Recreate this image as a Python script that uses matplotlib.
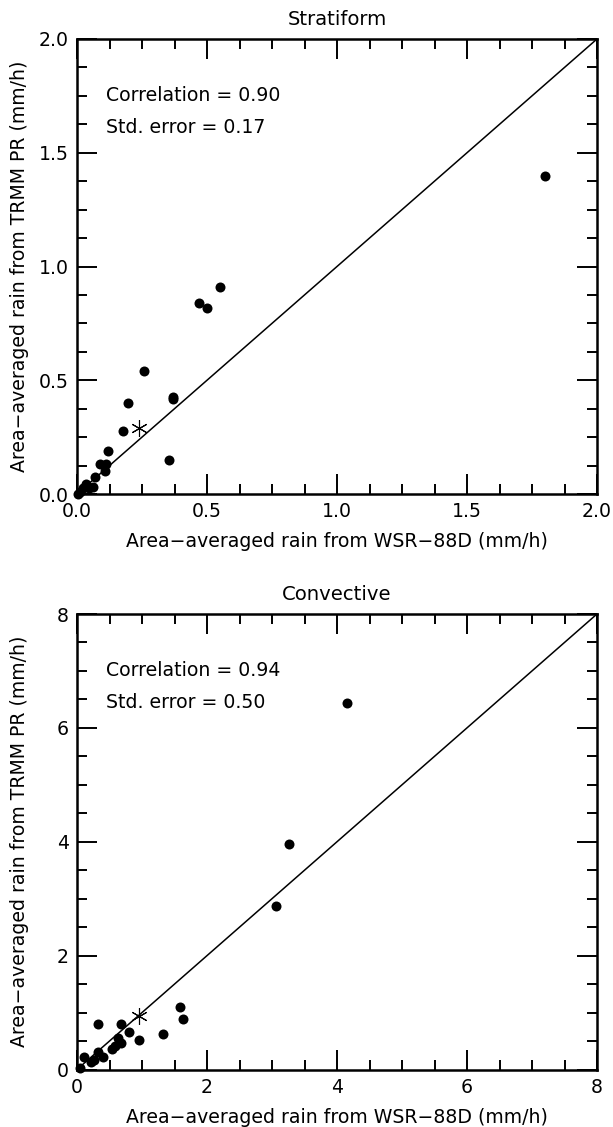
"""
TRMM PR vs WSR-88D area-averaged rain: stratiform and convective scatter.
Output: out.png (613x1127)
"""

import matplotlib
matplotlib.use("Agg")
import matplotlib.pyplot as plt
from matplotlib.ticker import MultipleLocator, FormatStrFormatter

# ─── Data ────────────────────────────────────────────────────────────────────
strat_x = [1.80, 0.549, 0.468, 0.499, 0.259, 0.197, 0.370, 0.370, 0.178, 0.355,
           0.118, 0.090, 0.112, 0.108, 0.068, 0.035, 0.063, 0.024, 0.048, 0.012, 0.005]
strat_y = [1.40, 0.909, 0.838, 0.817, 0.539, 0.398, 0.427, 0.417, 0.278, 0.148,
           0.189, 0.130, 0.130, 0.100, 0.076, 0.042, 0.029, 0.025, 0.027, 0.010, 0.000]
strat_star = (0.24, 0.29)
strat_stats = ("0.90", "0.17")

conv_x = [4.15, 3.26, 3.06, 1.59, 1.63, 1.32, 0.95, 0.33, 0.68, 0.80, 0.63, 0.67,
          0.54, 0.58, 0.40, 0.33, 0.26, 0.21, 0.10, 0.04]
conv_y = [6.43, 3.96, 2.87, 1.10, 0.89, 0.63, 0.52, 0.80, 0.80, 0.66, 0.55, 0.46,
          0.36, 0.42, 0.22, 0.30, 0.16, 0.13, 0.22, 0.03]
conv_star = (0.95, 0.94)
conv_stats = ("0.94", "0.50")

# ─── Canvas ──────────────────────────────────────────────────────────────────
DPI = 100
W, H = 613, 1127
FONT = "DejaVu Sans"
FS = 13.6

XLABEL = "Area\u2212averaged rain from WSR\u221288D (mm/h)"
YLABEL = "Area\u2212averaged rain from TRMM PR (mm/h)"


def panel(ax, xs, ys, star, stats, title, lim, major, minor, fmt):
    ax.set_xlim(0, lim)
    ax.set_ylim(0, lim)
    ax.plot([0, lim], [0, lim], color="black", lw=1.1, zorder=2)
    ax.plot(xs, ys, "o", color="black", ms=7.2, mew=0, zorder=3, clip_on=False)
    ax.plot(star[0], star[1], marker=(6, 2, 0), color="black", ms=12,
            mew=0.8, ls="none", zorder=4)

    for axis in (ax.xaxis, ax.yaxis):
        axis.set_major_locator(MultipleLocator(major))
        axis.set_minor_locator(MultipleLocator(minor))
        axis.set_major_formatter(FormatStrFormatter(fmt))
    ax.tick_params(which="both", direction="in", top=True, right=True,
                   width=1.4, labelsize=FS, pad=6)
    ax.tick_params(which="major", length=14.5)
    ax.tick_params(which="minor", length=7.5)
    for s in ax.spines.values():
        s.set_linewidth(1.8)

    ax.text(0.5, 1.043, title, transform=ax.transAxes, ha="center",
            va="center", fontsize=FS + 0.5, family=FONT)
    ax.text(0.056, 0.876, f"Correlation = {stats[0]}", transform=ax.transAxes,
            ha="left", va="center", fontsize=FS, family=FONT)
    ax.text(0.056, 0.805, f"Std. error = {stats[1]}", transform=ax.transAxes,
            ha="left", va="center", fontsize=FS, family=FONT)

    ax.set_xlabel(XLABEL, fontsize=FS, family=FONT)
    ax.set_ylabel(YLABEL, fontsize=FS, family=FONT)
    ax.xaxis.set_label_coords(0.5, -0.084)
    ax.yaxis.set_label_coords(-0.093, 0.5)


fig = plt.figure(figsize=(W / DPI, H / DPI), dpi=DPI)
fig.patch.set_facecolor("white")
plt.rcParams["font.family"] = FONT

ax1 = fig.add_axes([77 / W, (H - 494) / H, 520 / W, 455 / H])
ax2 = fig.add_axes([77 / W, (H - 1069.5) / H, 520 / W, 455.5 / H])

panel(ax1, strat_x, strat_y, strat_star, strat_stats, "Stratiform",
      2.0, 0.5, 0.125, "%.1f")
panel(ax2, conv_x, conv_y, conv_star, conv_stats, "Convective",
      8.0, 2.0, 0.5, "%d")

fig.savefig("out.png", dpi=DPI, facecolor="white")
